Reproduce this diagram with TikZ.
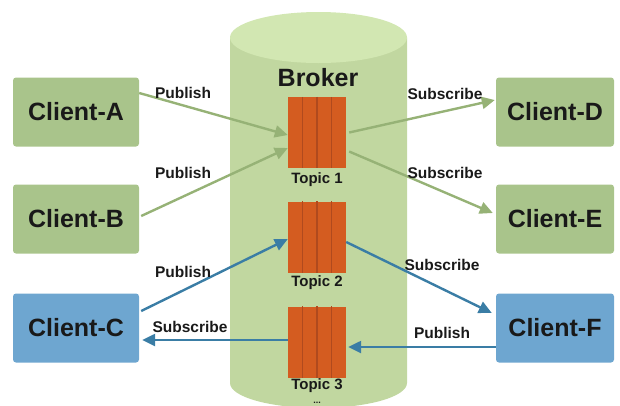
\documentclass[tikz,border=0pt]{standalone}
\usepackage{fontspec}
\setmainfont{Liberation Sans}
\usetikzlibrary{arrows.meta,calc}
\definecolor{gbox}{RGB}{169,196,139}
\definecolor{bbox}{RGB}{110,166,208}
\definecolor{cyltop}{RGB}{210,231,178}
\definecolor{cylbody}{RGB}{193,215,160}
\definecolor{garrow}{RGB}{150,178,118}
\definecolor{barrow}{RGB}{58,125,165}
\definecolor{topicfill}{RGB}{212,92,32}
\definecolor{topicline}{RGB}{176,74,30}
\definecolor{ink}{RGB}{25,25,25}
\tikzset{
  client/.style={rectangle, rounded corners=3pt, minimum height=69pt, inner sep=0pt,
    font=\bfseries\fontsize{25}{25}\selectfont, text=ink},
  leftc/.style={client, minimum width=126pt},
  rightc/.style={client, minimum width=118pt},
  greenbox/.style={fill=gbox},
  bluebox/.style={fill=bbox},
  topic/.style={rectangle, fill=topicfill, minimum width=58pt, minimum height=71pt, inner sep=0pt},
  lbl/.style={font=\bfseries\fontsize{15.5}{16}\selectfont, text=ink, inner sep=0pt},
  tlbl/.style={font=\bfseries\fontsize{15}{15}\selectfont, text=ink, inner sep=0pt},
  garr/.style={draw=garrow, line width=2.4pt, -{Triangle[length=13pt,width=12pt]}},
  barr/.style={draw=barrow, line width=2.4pt, -{Triangle[length=13pt,width=12pt]}},
}
\begin{document}
\begin{tikzpicture}[x=1pt,y=-1pt]
\useasboundingbox (0,0) rectangle (620,405);
\begin{scope}
\clip (0,0) rectangle (620,405);
\fill[cylbody] (230,37.5) -- (230,383) arc[start angle=180,end angle=360,x radius=88.5pt,y radius=25pt] -- (407,37.5) -- cycle;
\fill[cyltop] (318.5,37.5) ellipse[x radius=88.5pt,y radius=25.5pt];
\end{scope}
\node[font=\bfseries\fontsize{25}{25}\selectfont, text=ink, inner sep=0pt] (broker) at (318,78) {Broker};

\node[leftc,greenbox] (A) at (76,112) {Client-A};
\node[leftc,greenbox] (B) at (76,219) {Client-B};
\node[leftc,bluebox] (C) at (76,328) {Client-C};
\node[rightc,greenbox] (D) at (555,112) {Client-D};
\node[rightc,greenbox] (E) at (555,219) {Client-E};
\node[rightc,bluebox] (F) at (555,328) {Client-F};

\node[topic] (t1) at (317,132.5) {};
\node[topic] (t2) at (317,237) {};
\node[topic] (t3) at (317,342) {};
\foreach \t in {t1,t2,t3}{
  \foreach \f in {0.25,0.5,0.75}{
    \draw[topicline,line width=1.1pt] ($(\t.north west)!\f!(\t.north east)$) -- ($(\t.south west)!\f!(\t.south east)$);
  }
}
\node[tlbl] (l1) at (317,180) {Topic 1};
\node[tlbl] (l2) at (317,283) {Topic 2};
\node[tlbl] (l3) at (317,386) {Topic 3};
\node[font=\bfseries\fontsize{9}{9}\selectfont, text=ink, inner sep=0pt, anchor=base] (dots) at (317,403) {...};

\draw[garr] ($(A.east)+(0,-19)$) -- ($(t1.west)+(0,2.5)$);
\draw[garr] ($(B.east)+(2,-3)$) -- ($(t1.west)+(0,15.5)$);
\draw[garr] ($(t1.east)+(3,0)$) -- ($(D.west)+(-1,-12)$);
\draw[garr] ($(t1.east)+(3,19)$) -- ($(E.west)+(-3,-6)$);
\draw[barr] ($(C.east)+(2,-17)$) -- ($(t2.west)+(0,2)$);
\draw[barr] ($(t2.east)+(0,5)$) -- ($(F.west)+(-4,-15)$);
\draw[barr] ($(F.west)+(0,19)$) -- ($(t3.east)+(2,5)$);
\draw[barr] ($(t3.west)+(0,-2)$) -- ($(C.east)+(3,12)$);

\node[lbl] (pA) at (183,93) {Publish};
\node[lbl] (pB) at (183,173) {Publish};
\node[lbl] (pC) at (183,272) {Publish};
\node[lbl] (sC) at (190,327) {Subscribe};
\node[lbl] (sD) at (445,94) {Subscribe};
\node[lbl] (sE) at (445,173) {Subscribe};
\node[lbl] (sF) at (442,265) {Subscribe};
\node[lbl] (pF) at (442,333) {Publish};
\end{tikzpicture}
\end{document}
